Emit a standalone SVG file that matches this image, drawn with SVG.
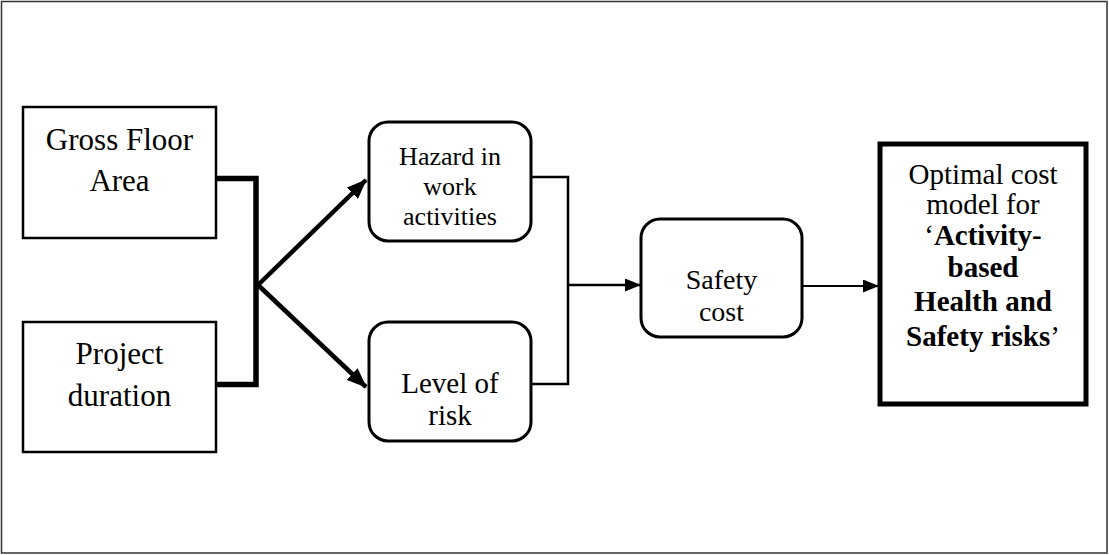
<svg xmlns="http://www.w3.org/2000/svg" width="1109" height="555" viewBox="0 0 1109 555">
  <style>
    .txt { font-family: "Liberation Serif", "Times New Roman", serif; fill: #000; text-anchor: middle; }
    .box { fill: #fff; stroke: #000; stroke-width: 2.5; }
    .rbox { fill: #fff; stroke: #000; stroke-width: 3; }
    .wire { fill: none; stroke: #000; stroke-width: 2.5; }
    .thick { fill: none; stroke: #000; stroke-width: 5.5; stroke-linejoin: miter; }
    .b { font-weight: bold; }
  </style>
  <defs>
    <marker id="arrowBig" viewBox="0 0 20 16" refX="19" refY="8" markerWidth="20" markerHeight="16" markerUnits="userSpaceOnUse" orient="auto">
      <path d="M0,0 L20,8 L0,16 Z" fill="#000"/>
    </marker>
    <marker id="arrowSmall" viewBox="0 0 16 13" refX="15" refY="6.5" markerWidth="16" markerHeight="13" markerUnits="userSpaceOnUse" orient="auto">
      <path d="M0,0 L16,6.5 L0,13 Z" fill="#000"/>
    </marker>
  </defs>

  <!-- frame -->
  <rect x="1.5" y="1.5" width="1105.5" height="551.5" fill="#fff" stroke="#333" stroke-width="1.5"/>

  <g id="connectors">
    <!-- inputs merge -->
    <polyline class="thick" points="216,178.5 256,178.5 256,384.5 216,384.5"/>
    <line x1="258" y1="285" x2="366" y2="180" stroke="#000" stroke-width="4.5" marker-end="url(#arrowBig)"/>
    <line x1="258" y1="285" x2="366" y2="387" stroke="#000" stroke-width="4.5" marker-end="url(#arrowBig)"/>
    <!-- factors merge -->
    <polyline class="wire" points="531,177 568,177 568,384 531,384"/>
    <line x1="568" y1="285" x2="640" y2="285" stroke="#000" stroke-width="2.5" marker-end="url(#arrowSmall)"/>
    <line x1="802" y1="286" x2="878" y2="286" stroke="#000" stroke-width="2" marker-end="url(#arrowSmall)"/>
  </g>

  <g id="gross-floor-area">
    <rect class="box" x="23" y="107" width="193" height="131"/>
    <text class="txt" x="119.5" y="150" font-size="31">Gross Floor</text>
    <text class="txt" x="119.5" y="191" font-size="31">Area</text>
  </g>

  <g id="project-duration">
    <rect class="box" x="23" y="322" width="193" height="130"/>
    <text class="txt" x="119.5" y="364" font-size="31">Project</text>
    <text class="txt" x="119.5" y="406" font-size="31">duration</text>
  </g>

  <g id="hazard">
    <rect class="rbox" x="369" y="122" width="162" height="119" rx="19" ry="19"/>
    <text class="txt" x="450" y="165" font-size="26">Hazard in</text>
    <text class="txt" x="450" y="195" font-size="26">work</text>
    <text class="txt" x="450" y="225" font-size="26">activities</text>
  </g>

  <g id="level-of-risk">
    <rect class="rbox" x="369" y="322" width="162" height="119" rx="19" ry="19"/>
    <text class="txt" x="450" y="393" font-size="29">Level of</text>
    <text class="txt" x="450" y="425" font-size="29">risk</text>
  </g>

  <g id="safety-cost">
    <rect class="rbox" x="641" y="219" width="161" height="118" rx="19" ry="19"/>
    <text class="txt" x="721.5" y="289" font-size="28">Safety</text>
    <text class="txt" x="721.5" y="321" font-size="28">cost</text>
  </g>

  <g id="optimal-model">
    <rect x="880" y="144" width="206" height="260" fill="#fff" stroke="#000" stroke-width="5"/>
    <text class="txt" x="983" y="184" font-size="29">Optimal cost</text>
    <text class="txt" x="983" y="214" font-size="29">model for</text>
    <text class="txt" x="983" y="245" font-size="29">‘<tspan class="b">Activity-</tspan></text>
    <text class="txt b" x="983" y="277" font-size="29">based</text>
    <text class="txt b" x="983" y="311" font-size="29">Health and</text>
    <text class="txt" x="983" y="346" font-size="29"><tspan class="b">Safety risks</tspan>’</text>
  </g>
</svg>
